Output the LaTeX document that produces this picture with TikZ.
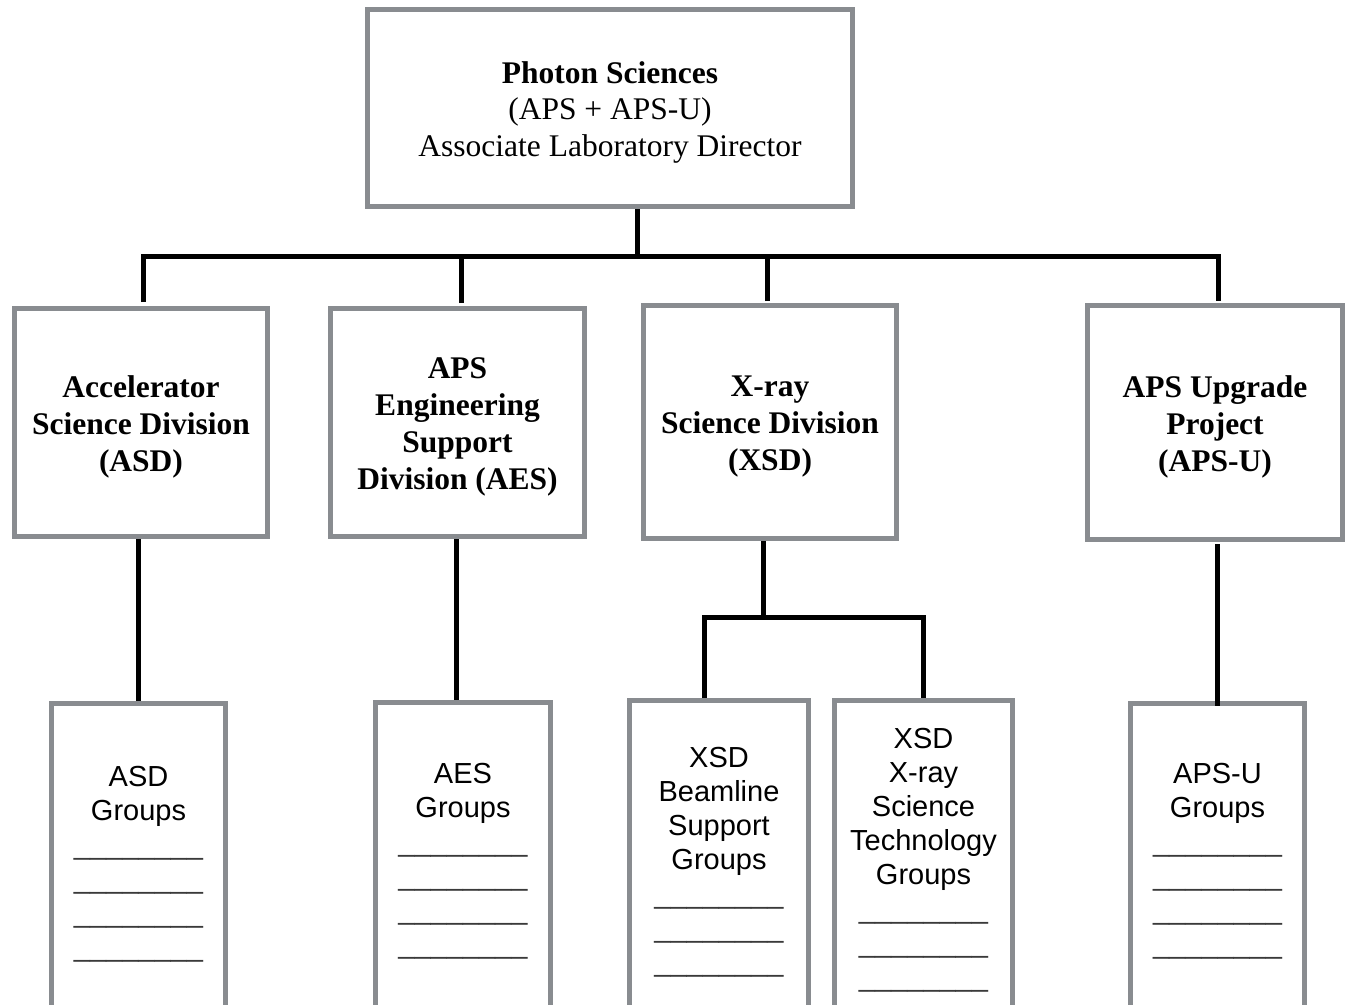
\documentclass[tikz,border=0pt]{standalone}
\usepackage{fontspec}
\setmainfont{Liberation Serif}
\newfontfamily\arialfont{Liberation Sans}
\definecolor{boxgray}{HTML}{898C90}
\definecolor{linegray}{HTML}{3A3A3A}
\tikzset{
  topbox/.style={draw=boxgray, line width=5bp, fill=white, inner sep=0pt, align=center,
    font=\fontsize{31.5bp}{36.5bp}\selectfont},
  divbox/.style={topbox, font=\bfseries\fontsize{31.5bp}{37bp}\selectfont},
  grpbox/.style={draw=boxgray, line width=5bp, fill=white, inner sep=0pt, anchor=north,
    minimum height=330bp},
  grptext/.style={inner sep=0pt, anchor=base, font=\arialfont\fontsize{29bp}{34bp}\selectfont},
  conn/.style={draw=black, line width=5bp, line join=miter}
}
\newcommand{\uline}{\textcolor{linegray}{\_\_\_\_\_\_\_\_}}
\newcommand{\tallstrut}{\rule{0pt}{30bp}}
\begin{document}
\begin{tikzpicture}[x=1bp, y=-1bp]
\useasboundingbox (0,0) rectangle (1350,1004);
\clip (0,0) rectangle (1350,1004);
\fill[white] (0,0) rectangle (1350,1004);

% top box
\node[topbox, minimum width=485bp, minimum height=197bp] (top) at (610,108)
  {\tallstrut\textbf{Photon Sciences}\\(APS + APS-U)\\Associate Laboratory Director};

% division boxes
\node[divbox, minimum width=253bp, minimum height=228bp] (asd) at (141,422.5)
  {\tallstrut Accelerator\\Science Division\\(ASD)};
\node[divbox, minimum width=254bp, minimum height=228bp] (aes) at (457.5,422.5)
  {\tallstrut APS\\Engineering\\Support\\Division (AES)};
\node[divbox, minimum width=253bp, minimum height=233bp] (xsd) at (770,422)
  {\tallstrut X-ray\\Science Division\\(XSD)};
\node[divbox, minimum width=255bp, minimum height=234bp] (apsu) at (1215,422.5)
  {\tallstrut APS Upgrade\\Project\\(APS-U)};

% group boxes
\node[grpbox, minimum width=174bp] (asdg) at (138.5,701) {};
\node[grpbox, minimum width=175bp] (aesg) at (463,700) {};
\node[grpbox, minimum width=179bp] (bmlg) at (719,698) {};
\node[grpbox, minimum width=178bp] (xrg) at (923.5,698) {};
\node[grpbox, minimum width=174bp] (apsug) at (1217.5,701) {};

% group texts
\node[grptext] (asdgt) at (138.5,786)
  {\begin{tabular}[t]{@{}c@{}}ASD\\Groups\\\uline\\\uline\\\uline\\\uline\end{tabular}};
\node[grptext] (aesgt) at (463,783)
  {\begin{tabular}[t]{@{}c@{}}AES\\Groups\\\uline\\\uline\\\uline\\\uline\end{tabular}};
\node[grptext] (bmlgt) at (719,767)
  {\begin{tabular}[t]{@{}c@{}}XSD\\Beamline\\Support\\Groups\\\uline\\\uline\\\uline\end{tabular}};
\node[grptext] (xrgt) at (923.5,748)
  {\begin{tabular}[t]{@{}c@{}}XSD\\X-ray\\Science\\Technology\\Groups\\\uline\\\uline\\\uline\end{tabular}};
\node[grptext] (apsugt) at (1217.5,783)
  {\begin{tabular}[t]{@{}c@{}}APS-U\\Groups\\\uline\\\uline\\\uline\\\uline\end{tabular}};

% connectors
\coordinate (jt) at (637,256);
\coordinate (d1) at (143,256);
\coordinate (d2) at (461,256);
\coordinate (d3) at (767,256);
\coordinate (d4) at (1218,256);
\draw[conn] (top.south -| jt) -- (jt);
\draw[conn] ([yshift=4bp]asd.north -| d1) -- (d1) -- (d4) -- ([yshift=2bp]apsu.north -| d4);
\draw[conn] ([yshift=3bp]aes.north -| d2) -- (d2);
\draw[conn] ([yshift=2bp]xsd.north -| d3) -- (d3);

\draw[conn] (asd.south -| asdg.north) -- (asdg.north);
\coordinate (c2) at (456,620);
\draw[conn] (aes.south -| c2) -- (aesg.north -| c2);
\coordinate (xj) at (763,617);
\coordinate (xl) at (704,617);
\coordinate (xr) at (923,617);
\draw[conn] (xsd.south -| xj) -- (xj);
\draw[conn] (bmlg.north -| xl) -- (xl) -- (xr) -- (xrg.north -| xr);
\coordinate (c5) at (1217,620);
\draw[conn] ([yshift=-2bp]apsu.south -| c5) -- ([yshift=-5bp]apsug.north -| c5);
\end{tikzpicture}
\end{document}
